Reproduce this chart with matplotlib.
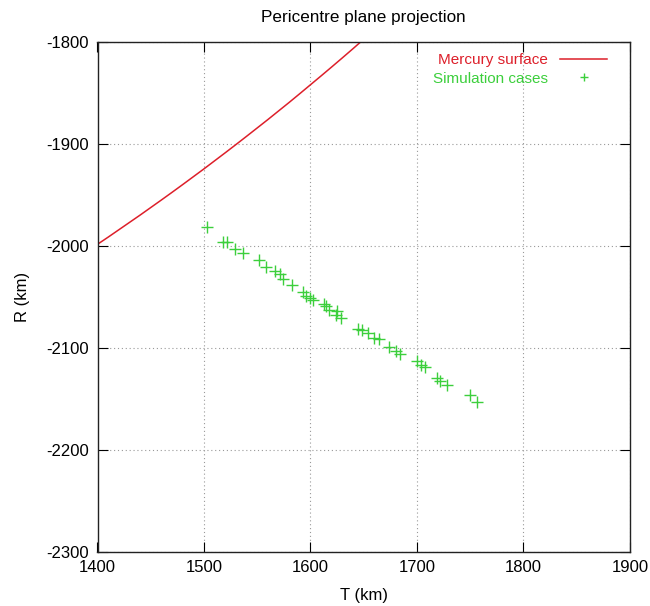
import matplotlib
matplotlib.use('Agg')
import matplotlib.pyplot as plt

plt.rcParams['font.family'] = ['Liberation Sans', 'DejaVu Sans']
plt.rcParams['axes.unicode_minus'] = False

# Mercury surface
surf_t = [1400, 1410, 1420, 1430, 1440, 1450, 1460, 1470, 1480, 1490,
          1500, 1510, 1520, 1530, 1540, 1550, 1560, 1570, 1580, 1590,
          1600, 1610, 1620, 1630, 1640, 1650]
surf_r = [-1998.4, -1991.4, -1984.2, -1977.0, -1969.8, -1962.4, -1955.0,
          -1947.5, -1939.9, -1932.2, -1924.5, -1916.6, -1908.7, -1900.7,
          -1892.6, -1884.4, -1876.2, -1867.8, -1859.4, -1850.8, -1842.1,
          -1833.4, -1824.6, -1815.7, -1806.7, -1797.5]

# simulation cases (green crosses)
case_t = [1503, 1518, 1522, 1529, 1537, 1552, 1558, 1567, 1571, 1574,
          1583, 1593, 1596, 1600, 1602, 1613, 1615, 1617, 1625, 1624,
          1629, 1645, 1648, 1654, 1660, 1664, 1674, 1680, 1684, 1700,
          1704, 1708, 1719, 1722, 1728, 1750, 1756]
case_r = [-1981, -1996, -1996, -2003, -2007, -2014, -2021, -2025, -2028, -2032,
          -2038, -2045, -2049, -2051, -2053, -2057, -2059, -2063, -2064, -2068,
          -2071, -2081, -2082, -2085, -2090, -2091, -2099, -2103, -2106, -2113,
          -2117, -2119, -2129, -2132, -2136, -2146, -2153]

fig = plt.figure(figsize=(6.5, 6.06), dpi=100)
ax = fig.add_axes([0.15, 0.089, 0.819, 0.842])

ax.plot(surf_t, surf_r, color='#dd1f2a', lw=1.1, label='Mercury surface')
ax.plot(case_t, case_r, linestyle='none', marker='+', markersize=8,
        markeredgewidth=1.0, color='#3ccf3c', label='Simulation cases')

ax.set_xlim(1400, 1900)
ax.set_ylim(-2300, -1800)
ax.set_xticks([1400, 1500, 1600, 1700, 1800, 1900])
ax.set_yticks([-2300, -2200, -2100, -2000, -1900, -1800])
ax.grid(True, linestyle=(0, (1, 2.5)), color='#999999', lw=0.8)
ax.tick_params(direction='in', length=7, width=0.8, top=True, right=True,
               labelsize=12, pad=6)
for s in ax.spines.values():
    s.set_linewidth(1.0)
    s.set_color('#222222')

ax.set_title('Pericentre plane projection', fontsize=12.3, pad=14)
ax.set_xlabel('T (km)', fontsize=12, labelpad=9)
ax.set_ylabel('R (km)', fontsize=12, labelpad=12)

leg = ax.legend(loc='upper right', bbox_to_anchor=(0.958, 0.978),
                markerfirst=False, frameon=False,
                labelcolor='linecolor', fontsize=11, handlelength=3.1,
                handletextpad=0.8, borderaxespad=0, borderpad=0,
                labelspacing=0.3, markerscale=0.7)

fig.savefig('out.png', dpi=100)
